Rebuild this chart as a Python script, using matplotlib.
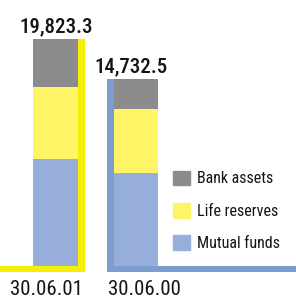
import matplotlib.pyplot as plt
from matplotlib.patches import Patch
import numpy as np

# data (heights; labels as printed)
dates = ['30.06.01', '30.06.00']
totals_text = ['19,823.3', '14,732.5']
mutual_funds = [9340, 8120]
life_reserves = [6290, 5590]
bank_assets = [4193, 2620]

c_bank = '#8c8c8c'
c_life = '#fff466'
c_mutual = '#96aed9'
frame_cols = ['#f5ef00', '#7b9dd0']

plt.rcParams['font.family'] = ['Roboto Condensed', 'DejaVu Sans']

fig = plt.figure(figsize=(2.96, 2.98), dpi=100)
ax = fig.add_axes([0, 0, 1, 1])
ax.axis('off')

px = 80.5          # pixels per x unit
py = 87.3          # data units per pixel
ax.set_xlim(-55.5 / px, (296 - 55.5) / px)
ax.set_ylim(-32 * py, 266 * py)

x = np.arange(len(dates))
w = 45 / px
fw = 7 / px        # frame thickness (x)
fh = 6 * py        # frame thickness (y)

mutual_funds = np.array(mutual_funds)
life_reserves = np.array(life_reserves)
bank_assets = np.array(bank_assets)
tops = mutual_funds + life_reserves + bank_assets

ax.bar(x, mutual_funds, w, color=c_mutual, linewidth=0)
ax.bar(x, life_reserves, w, bottom=mutual_funds, color=c_life, linewidth=0)
ax.bar(x, bank_assets, w, bottom=mutual_funds + life_reserves, color=c_bank, linewidth=0)

# L-shaped frames: yellow on the right of the first bar, blue on the left of the second
x0, x1 = ax.get_xlim()
ax.bar(x[0] + w / 2 + fw / 2, tops[0] + fh, fw, bottom=-fh, color=frame_cols[0], linewidth=0)
ax.bar((x0 + x[0] + w / 2 + fw) / 2, fh, x[0] + w / 2 + fw - x0,
       bottom=-fh, color=frame_cols[0], linewidth=0)
ax.bar(x[1] - w / 2 - fw / 2, tops[1] + fh, fw, bottom=-fh, color=frame_cols[1], linewidth=0)
ax.bar((x1 + x[1] - w / 2 - fw) / 2, fh, x1 - (x[1] - w / 2 - fw),
       bottom=-fh, color=frame_cols[1], linewidth=0)

# value labels
offs = [1 / px, -5 / px]
for i, t in enumerate(totals_text):
    ax.text(x[i] + offs[i], tops[i] + 6.5 * py, t, ha='center', va='baseline',
            fontsize=15, fontweight='medium', color='#151515')

# date labels
doffs = [-9.5 / px, 8.5 / px]
for i, d in enumerate(dates):
    ax.text(x[i] + doffs[i], -28.8 * py, d, ha='center', va='baseline',
            fontsize=15, color='#151515')

handles = [Patch(color=c_bank, label='Bank assets'),
           Patch(color=c_life, label='Life reserves'),
           Patch(color=c_mutual, label='Mutual funds')]
ax.legend(handles=handles, loc='upper left', bbox_to_anchor=(173 / 296, 1 - 170.5 / 298),
          bbox_transform=fig.transFigure, frameon=False, fontsize=11.5,
          handlelength=1.05, handleheight=1.05, labelspacing=1.03,
          handletextpad=0.45, borderpad=0, borderaxespad=0,
          labelcolor='#151515')

fig.savefig('out.png', dpi=100)
